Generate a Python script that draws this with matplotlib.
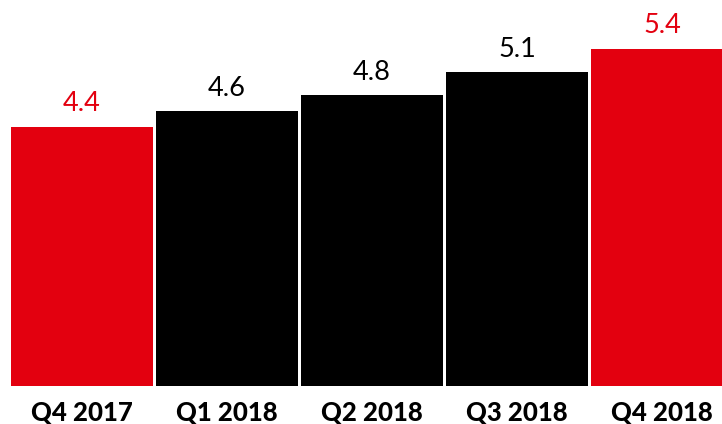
import matplotlib.pyplot as plt

quarters = ["Q4 2017", "Q1 2018", "Q2 2018", "Q3 2018", "Q4 2018"]
values = [4.4, 4.6, 4.8, 5.1, 5.4]
highlight = [True, False, False, False, True]

red = "#E3000F"
colors = [red if h else "black" for h in highlight]

plt.rcParams["font.family"] = ["Lato", "DejaVu Sans"]

fig = plt.figure(figsize=(7.22, 4.24), dpi=100)
ax = fig.add_axes([0, 0.0903, 1, 0.9097])

x = range(len(quarters))
ax.bar(x, values, width=0.98, color=colors)

for i, v in enumerate(values):
    ax.annotate(f"{v:.1f}", (i, v), xytext=(0, 11), textcoords="offset points",
                ha="center", va="baseline", fontsize=19.5, color=colors[i])

ax.set_xlim(-0.5655, 4.4138)
ax.set_ylim(1.09, 6.02)
ax.set_xticks(list(x))
ax.set_xticklabels(quarters, fontsize=18.5, fontweight="black")
ax.tick_params(axis="x", length=0, pad=10.5)
ax.set_yticks([])
for s in ax.spines.values():
    s.set_visible(False)

fig.savefig("out.png", dpi=100)
